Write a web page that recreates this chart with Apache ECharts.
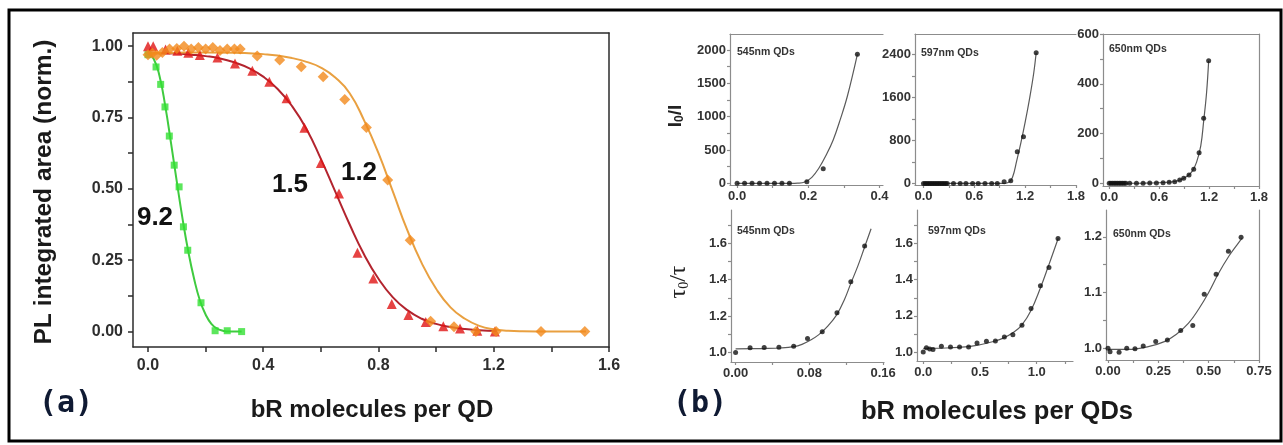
<!DOCTYPE html>
<html><head><meta charset="utf-8">
<script src="https://cdn.jsdelivr.net/npm/echarts@6/dist/echarts.min.js"></script>
<style>html,body{margin:0;padding:0;background:#fff}#c{width:1283px;height:445px}</style>
</head><body><div id="c"></div>
<script>
// ---------- Panel (a) data ----------
const aGreenPts = [[0.0,0.97],[0.028,0.927],[0.044,0.866],[0.059,0.787],[0.074,0.685],[0.091,0.583],[0.108,0.507],[0.123,0.367],[0.138,0.285],[0.184,0.101],[0.233,0.003],[0.275,0.003],[0.325,0.0]];
const aGreenFit = [[0,0.975],[0.02,0.955],[0.04,0.895],[0.06,0.79],[0.08,0.66],[0.1,0.525],[0.12,0.395],[0.14,0.28],[0.16,0.185],[0.18,0.11],[0.2,0.06],[0.22,0.027],[0.24,0.01],[0.26,0.003],[0.28,0.0],[0.325,0.0]];
const aRedPts = [[0.0,1.0],[0.018,1.0],[0.061,0.988],[0.102,0.984],[0.14,0.977],[0.18,0.969],[0.241,0.96],[0.302,0.939],[0.362,0.914],[0.421,0.875],[0.481,0.817],[0.543,0.714],[0.6,0.591],[0.663,0.484],[0.727,0.276],[0.782,0.186],[0.846,0.097],[0.904,0.058],[0.964,0.034],[1.025,0.019],[1.083,0.011],[1.143,0.003],[1.204,0.0]];
const aRedFit = [[0,0.975],[0.05,0.975],[0.1,0.974],[0.15,0.97],[0.2,0.965],[0.25,0.957],[0.3,0.943],[0.35,0.923],[0.4,0.893],[0.45,0.85],[0.5,0.79],[0.55,0.71],[0.6,0.605],[0.65,0.49],[0.7,0.375],[0.75,0.27],[0.8,0.185],[0.85,0.12],[0.9,0.075],[0.95,0.045],[1.0,0.027],[1.05,0.016],[1.1,0.009],[1.15,0.005],[1.21,0.002]];
const aOrangePts = [[0.0,0.97],[0.015,0.975],[0.03,0.968],[0.05,0.978],[0.075,0.99],[0.1,0.992],[0.125,1.0],[0.15,0.99],[0.175,0.995],[0.2,0.99],[0.225,0.995],[0.25,0.985],[0.275,0.99],[0.3,0.99],[0.32,0.99],[0.379,0.965],[0.457,0.951],[0.532,0.928],[0.608,0.893],[0.683,0.813],[0.758,0.715],[0.832,0.531],[0.91,0.32],[0.981,0.036],[1.062,0.017],[1.138,0.0],[1.208,0.0],[1.364,0.0],[1.516,0.0]];
const aOrangeFit = [[0,0.975],[0.1,0.977],[0.2,0.978],[0.3,0.977],[0.35,0.975],[0.4,0.972],[0.45,0.967],[0.5,0.958],[0.55,0.945],[0.6,0.925],[0.65,0.89],[0.7,0.835],[0.75,0.74],[0.8,0.625],[0.85,0.49],[0.9,0.355],[0.95,0.24],[1.0,0.15],[1.05,0.085],[1.1,0.045],[1.15,0.02],[1.2,0.008],[1.25,0.003],[1.3,0.001],[1.4,0.0],[1.52,0.0]];
const aXTicks = [0, 0.4, 0.8, 1.2, 1.6];
const aXMinor = [0.2, 0.6, 1.0, 1.4];
const aYTicks = [0, 0.25, 0.5, 0.75, 1.0];
const aYMinor = [0.125, 0.375, 0.625, 0.875];
const aCurveLabels = ['9.2', '1.5', '1.2'];

// ---------- Panel (b) data ----------
const b1Pts = [[0,0],[0.021,0],[0.042,0],[0.063,0],[0.084,0],[0.105,0],[0.126,0],[0.147,0],[0.196,25],[0.242,219],[0.338,1935]];
const b1Fit = [[0,0],[0.05,0],[0.1,0],[0.15,0],[0.17,3],[0.19,20],[0.21,90],[0.23,230],[0.25,420],[0.27,650],[0.29,960],[0.31,1310],[0.338,1935]];
const b2Pts = [[0,0],[0.02,0],[0.04,0],[0.06,0],[0.08,0],[0.1,0],[0.12,0],[0.14,0],[0.16,0],[0.18,0],[0.2,0],[0.22,0],[0.24,0],[0.26,0],[0.28,0],[0.354,0],[0.433,0],[0.501,0],[0.58,0],[0.646,0],[0.726,0],[0.805,0],[0.871,0],[0.952,30],[1.03,48],[1.107,588],[1.18,867],[1.33,2430]];
const b2Fit = [[0,0],[0.3,0],[0.6,0],[0.9,0],[0.95,2],[1.0,15],[1.05,110],[1.1,420],[1.15,760],[1.2,1140],[1.25,1560],[1.3,2040],[1.33,2430]];
const b3Pts = [[0,0],[0.02,0],[0.04,0],[0.06,0],[0.08,0],[0.1,0],[0.12,0],[0.14,0],[0.16,0],[0.18,0],[0.2,0],[0.246,0],[0.327,0],[0.407,0],[0.487,1],[0.567,1],[0.647,2],[0.72,4],[0.787,6],[0.847,13],[0.895,20],[0.959,33],[1.015,56],[1.08,123],[1.135,261],[1.195,492]];
const b3Fit = [[0,0],[0.2,0],[0.4,0.5],[0.6,2],[0.7,4],[0.8,8],[0.88,17],[0.95,32],[1.0,50],[1.05,85],[1.1,150],[1.135,250],[1.17,365],[1.195,492]];
const b4Pts = [[0,1.0],[0.0157,1.026],[0.031,1.028],[0.047,1.029],[0.063,1.035],[0.078,1.077],[0.094,1.114],[0.11,1.218],[0.125,1.389],[0.14,1.585]];
const b4Fit = [[0,1.02],[0.03,1.022],[0.05,1.025],[0.063,1.032],[0.072,1.045],[0.08,1.065],[0.09,1.097],[0.1,1.145],[0.11,1.21],[0.118,1.29],[0.125,1.38],[0.133,1.48],[0.14,1.58],[0.147,1.68]];
const b5Pts = [[0,1.0],[0.028,1.024],[0.057,1.017],[0.086,1.013],[0.16,1.031],[0.24,1.028],[0.32,1.028],[0.40,1.028],[0.474,1.05],[0.557,1.059],[0.636,1.061],[0.715,1.083],[0.79,1.096],[0.87,1.148],[0.95,1.24],[1.033,1.367],[1.108,1.467],[1.188,1.628]];
const b5Fit = [[0,1.02],[0.2,1.022],[0.4,1.03],[0.5,1.04],[0.6,1.055],[0.7,1.075],[0.8,1.11],[0.87,1.15],[0.95,1.23],[1.03,1.35],[1.1,1.47],[1.19,1.63]];
const b6Pts = [[0,1.0],[0.01,0.994],[0.055,0.993],[0.093,1.0],[0.134,0.999],[0.175,1.004],[0.237,1.012],[0.295,1.015],[0.361,1.032],[0.421,1.041],[0.478,1.097],[0.537,1.133],[0.598,1.174],[0.661,1.199]];
const b6Fit = [[0,0.998],[0.1,0.998],[0.2,1.003],[0.28,1.012],[0.34,1.025],[0.4,1.045],[0.45,1.07],[0.5,1.1],[0.55,1.135],[0.6,1.165],[0.64,1.185],[0.665,1.197]];

const b1XTicks=[0,0.2,0.4], b1XMinor=[0.1,0.3], b1YTicks=[0,500,1000,1500,2000], b1YMinor=[250,750,1250,1750];
const b2XTicks=[0,0.6,1.2,1.8], b2XMinor=[0.3,0.9,1.5], b2YTicks=[0,800,1600,2400], b2YMinor=[400,1200,2000];
const b3XTicks=[0,0.6,1.2,1.8], b3XMinor=[0.3,0.9,1.5], b3YTicks=[0,200,400,600], b3YMinor=[100,300,500];
const b4XTicks=[0,0.08,0.16], b4XMinor=[0.04,0.12], b4YTicks=[1.0,1.2,1.4,1.6], b4YMinor=[1.1,1.3,1.5,1.7];
const b5XTicks=[0,0.5,1.0], b5XMinor=[0.25,0.75,1.25], b5YTicks=[1.0,1.2,1.4,1.6], b5YMinor=[1.1,1.3,1.5,1.7];
const b6XTicks=[0,0.25,0.5,0.75], b6XMinor=[0.125,0.375,0.625], b6YTicks=[1.0,1.1,1.2], b6YMinor=[1.05,1.15];
const bPanelLabels = ['545nm QDs','597nm QDs','650nm QDs','545nm QDs','597nm QDs','650nm QDs'];

// ---------- builders ----------
const grids=[], xAxes=[], yAxes=[], series=[];
const FF = '"Liberation Sans", Arial, sans-serif';
function panel(rect, xr, yr, xt, xm, yt, ym, xdec, ydec, st, border){
  const gi = grids.length;
  grids.push({left:rect[0], top:rect[1], width:rect[2], height:rect[3]});
  const ls = {color:st.line, width:st.lw};
  const base = {gridIndex:gi, type:'value', splitLine:{show:false}};
  const xi = xAxes.length, yi = yAxes.length;
  xAxes.push({...base, position:'bottom', min:xr[0], max:xr[1],
    axisLine:{show:true,onZero:false,lineStyle:ls},
    axisTick:{show:true,customValues:xt.concat(xm),length:st.tl,lineStyle:ls},
    axisLabel:{show:true,customValues:xt,formatter:v=>Number(v).toFixed(xdec),color:st.lab,fontSize:st.fs,fontWeight:'bold',fontFamily:FF,margin:st.xm,hideOverlap:false}});
  if (border.top) xAxes.push({...base, position:'top', min:xr[0], max:xr[1],
    axisLine:{show:true,onZero:false,lineStyle:ls}, axisTick:{show:false}, axisLabel:{show:false}});
  yAxes.push({...base, position:'left', min:yr[0], max:yr[1],
    axisLine:{show:true,onZero:false,lineStyle:ls},
    axisTick:{show:true,customValues:yt.concat(ym),length:st.tl,lineStyle:ls},
    axisLabel:{show:true,customValues:yt,formatter:v=>Number(v).toFixed(ydec),color:st.lab,fontSize:st.fs,fontWeight:'bold',fontFamily:FF,margin:st.ym,hideOverlap:false}});
  if (border.right) yAxes.push({...base, position:'right', min:yr[0], max:yr[1],
    axisLine:{show:true,onZero:false,lineStyle:ls}, axisTick:{show:false}, axisLabel:{show:false}});
  return {xi, yi};
}
function fit(ax, data, color, w, sm){
  series.push({type:'line', xAxisIndex:ax.xi, yAxisIndex:ax.yi, data, smooth:sm,
    symbol:'none', showSymbol:false, lineStyle:{color, width:w}, z:2, silent:true});
}
function pts(ax, data, symbol, size, color){
  series.push({type:'scatter', xAxisIndex:ax.xi, yAxisIndex:ax.yi, data, symbol, symbolSize:size,
    itemStyle:{color}, z:3, silent:true});
}

const stA = {line:'#2b2b2b', lw:1.5, tl:5, lab:'#2e2e2e', fs:16, xm:11, ym:10};
const stB = {line:'#8c8c8c', lw:1.2, tl:3, lab:'#333', fs:13, xm:5, ym:4};

const A  = panel([133,33,476,314], [-0.052,1.6], [-0.054,1.046], aXTicks,aXMinor,aYTicks,aYMinor, 1,2, stA, {top:true,right:true});
const P1 = panel([730,34,153,151], [-0.02,0.41], [-25,2240], b1XTicks,b1XMinor,b1YTicks,b1YMinor, 1,0, stB, {top:true});
const P2 = panel([915,34,161,151], [-0.1,1.8], [-30,2780], b2XTicks,b2XMinor,b2YTicks,b2YMinor, 1,0, stB, {top:true});
const P3 = panel([1103,34,156,152], [-0.075,1.8], [-11,600], b3XTicks,b3XMinor,b3YTicks,b3YMinor, 1,0, stB, {top:true,right:true});
const P4 = panel([731,210,153,152], [-0.005,0.161], [0.948,1.783], b4XTicks,b4XMinor,b4YTicks,b4YMinor, 2,1, stB, {});
const P5 = panel([917,210,156,151], [-0.055,1.32], [0.95,1.786], b5XTicks,b5XMinor,b5YTicks,b5YMinor, 1,1, stB, {});
const P6 = panel([1106,210,153,150], [-0.01,0.75], [0.979,1.248], b6XTicks,b6XMinor,b6YTicks,b6YMinor, 2,1, stB, {right:true});

fit(A, aGreenFit, '#3fcb3f', 2, 0.5);
fit(A, aRedFit, '#b3242e', 2, 0.5);
fit(A, aOrangeFit, '#e9a040', 2, 0.5);
pts(A, aGreenPts, 'rect', 7, '#33e033');
pts(A, aRedPts, 'triangle', 10, '#e01414');
pts(A, aOrangePts, 'diamond', 11, '#f28a1c');

[[P1,b1Fit,b1Pts],[P2,b2Fit,b2Pts],[P3,b3Fit,b3Pts],[P4,b4Fit,b4Pts],[P5,b5Fit,b5Pts],[P6,b6Fit,b6Pts]].forEach(([p,f,d])=>{
  fit(p, f, '#5a5a5a', 1.2, 0.4);
  pts(p, d, 'circle', 5, '#111');
});

// ---------- texts ----------
function txt(x, y, text, font, fill, rot, align){
  return {type:'text', x, y, rotation:rot||0, z:10, silent:true,
    style:{text, font, fill, align:align||'center', verticalAlign:'middle'}};
}
const panelTitlePos = [[737,52,'left'],[921,53,'left'],[1109,49,'left'],[737,231,'left'],[928,231,'left'],[1113,234,'left']];
const graphics = [
  {type:'rect', shape:{x:9,y:10,width:1272,height:431}, style:{fill:'none', stroke:'#000', lineWidth:3}, silent:true},
  txt(44, 192, 'PL integrated area (norm.)', 'bold 24.5px '+FF, '#1a1a1a', Math.PI/2),
  txt(372, 410, 'bR molecules per QD', 'bold 24px '+FF, '#1a1a1a'),
  txt(66, 404, '(a)', 'bold 30px "DejaVu Sans Mono", monospace', '#0f1a33'),
  txt(155, 218, aCurveLabels[0], 'bold 26px '+FF, '#111'),
  txt(290, 185, aCurveLabels[1], 'bold 26px '+FF, '#111'),
  txt(359, 173, aCurveLabels[2], 'bold 26px '+FF, '#111'),
  txt(700, 404, '(b)', 'bold 30px "DejaVu Sans Mono", monospace', '#0f1a33'),
  txt(997, 412, 'bR molecules per QDs', 'bold 25.5px '+FF, '#1a1a1a'),
  {type:'text', x:676, y:116, rotation:Math.PI/2, z:10, silent:true,
    style:{text:'{a|I}{s|0}{a|/I}', align:'center', verticalAlign:'middle',
      rich:{a:{font:'bold 19px '+FF, fill:'#222'}, s:{font:'bold 12px '+FF, fill:'#222', verticalAlign:'bottom', padding:[8,0,0,0]}}}},
  {type:'text', x:679, y:282, rotation:Math.PI/2, z:10, silent:true,
    style:{text:'{a|τ}{s|0}{a|/τ}', align:'center', verticalAlign:'middle',
      rich:{a:{font:'24px "Liberation Serif", serif', fill:'#222'}, s:{font:'14px "Liberation Serif", serif', fill:'#222', verticalAlign:'bottom', padding:[10,0,0,0]}}}}
];
bPanelLabels.forEach((t,i)=>{
  const p = panelTitlePos[i];
  graphics.push(txt(p[0], p[1], t, 'bold 10.5px '+FF, '#333', 0, p[2]));
});

const chart = echarts.init(document.getElementById('c'), null, {renderer:'canvas'});
chart.setOption({
  animation:false,
  backgroundColor:'#fff',
  grid:grids, xAxis:xAxes, yAxis:yAxes, series, graphic:graphics
});
</script></body></html>
